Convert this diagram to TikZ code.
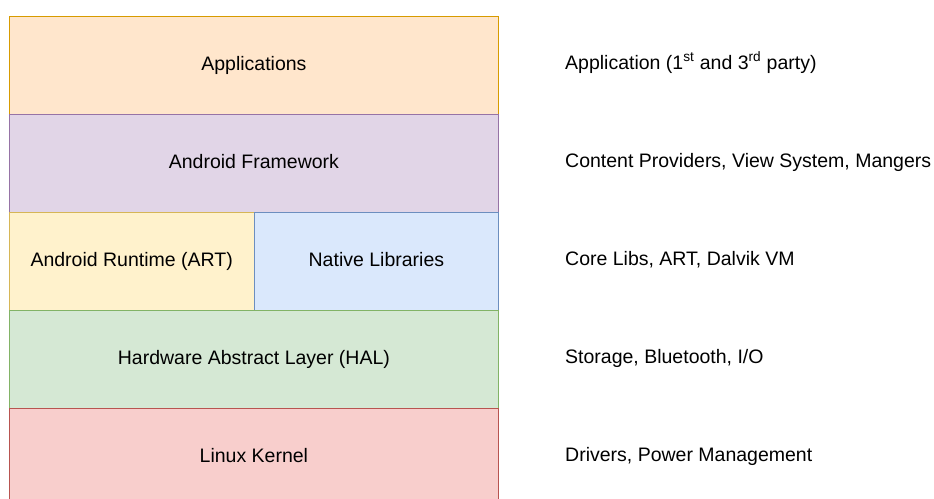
\documentclass[tikz,border=0pt]{standalone}
\usepackage{fontspec}
\setmainfont{Liberation Sans}
\definecolor{ofill}{HTML}{FFE6CC}\definecolor{odraw}{HTML}{D79B00}
\definecolor{pfill}{HTML}{E1D5E7}\definecolor{pdraw}{HTML}{9673A6}
\definecolor{yfill}{HTML}{FFF2CC}\definecolor{ydraw}{HTML}{D6B656}
\definecolor{bfill}{HTML}{DAE8FC}\definecolor{bdraw}{HTML}{6C8EBF}
\definecolor{gfill}{HTML}{D5E8D4}\definecolor{gdraw}{HTML}{82B366}
\definecolor{rfill}{HTML}{F8CECC}\definecolor{rdraw}{HTML}{B85450}
\begin{document}
\begin{tikzpicture}[x=1pt,y=-1pt,
  layer/.style={draw, line width=1.3pt, minimum height=98pt, inner sep=0pt, anchor=north west, text height=14pt, text depth=4pt, font=\fontsize{19.5}{23}\selectfont},
  desc/.style={anchor=west, inner sep=0pt, text height=14pt, text depth=4pt, font=\fontsize{19.5}{23}\selectfont}]
\path[use as bounding box] (0,0) rectangle (934,498);
\clip (0,0) rectangle (934,498);
\node[layer, fill=ofill, draw=odraw, minimum width=489.5pt] (app) at (8.5,15.5) {Applications};
\node[layer, fill=pfill, draw=pdraw, minimum width=489.5pt] (fw) at (8.5,113.5) {Android Framework};
\node[layer, fill=yfill, draw=ydraw, minimum width=245pt] (art) at (8.5,211.5) {Android Runtime (ART)};
\node[layer, fill=bfill, draw=bdraw, minimum width=244.5pt] (nat) at (253.5,211.5) {Native Libraries};
\node[layer, fill=gfill, draw=gdraw, minimum width=489.5pt] (hal) at (8.5,309.5) {Hardware Abstract Layer (HAL)};
\node[layer, fill=rfill, draw=rdraw, minimum width=489.5pt] (lk) at (8.5,407.5) {Linux Kernel};
\node[desc] (d1) at (565,64.5) {Application (1\textsuperscript{st} and 3\textsuperscript{rd} party)};
\node[desc] (d2) at (565,162.5) {Content Providers, View System, Mangers};
\node[desc] (d3) at (565,260.5) {Core Libs, ART, Dalvik VM};
\node[desc] (d4) at (565,358.5) {Storage, Bluetooth, I/O};
\node[desc] (d5) at (565,456.5) {Drivers, Power Management};
\end{tikzpicture}
\end{document}
